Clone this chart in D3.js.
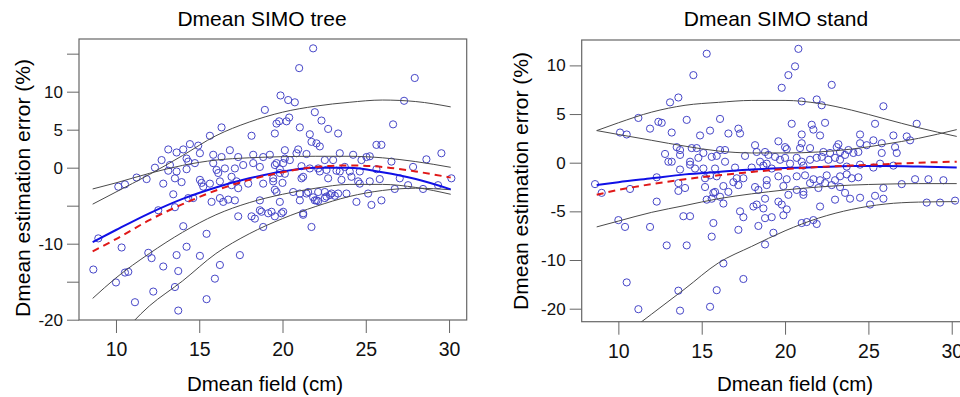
<!DOCTYPE html>
<html>
<head>
<meta charset="utf-8">
<script src="https://cdn.jsdelivr.net/npm/d3@7"></script>
<style>
  body { margin: 0; background: #fff; }
  svg { display: block; font-family: "Liberation Sans", Arial, sans-serif; }
</style>
</head>
<body>
<svg id="chart" width="960" height="397"></svg>
<script>
// ---- data ----
const treeTitle = 'Dmean SIMO tree';
const standTitle = 'Dmean SIMO stand';
const xLabel = 'Dmean field (cm)';
const yLabel = 'Dmean estimation error (%)';

const xTicks = [10, 15, 20, 25, 30];
const treeYTicks = [15, 10, 5, 0, -5, -10, -15, -20];
const treeYLabelled = [10, 5, 0, -10, -20];
const standYTicks = [10, 5, 0, -5, -10, -20];

// [Dmean field (cm), estimation error (%)]
const treePoints = [
  [8.64,-13.4],[8.94,-9.3],[10.0,-15.1],[10.14,-2.5],[10.54,-2.2],[10.34,-10.5],[10.54,-13.8],[10.74,-13.7],
  [11.14,-17.7],[11.24,-1.3],[11.84,-1.5],[11.94,-11.2],[12.14,-11.9],[12.24,-16.3],[12.34,0.0],[12.54,-5.6],
  [12.74,1.0],[12.84,-2.1],[12.84,-13.0],[13.14,2.4],[13.24,0.35],[13.14,-0.4],[13.44,-3.5],[13.54,-5.2],
  [13.64,2.0],[13.64,-0.5],[13.54,-1.4],[13.64,-11.5],[13.74,-13.6],[13.54,-15.7],[13.74,-18.8],[13.94,-1.9],
  [14.04,2.4],[14.04,-7.7],[14.24,1.2],[14.34,0.8],[14.24,-0.2],[14.24,-10.4],[14.34,-4.0],[14.44,3.1],
  [14.64,-4.0],[14.74,0.6],[14.94,2.9],[15.04,1.9],[15.04,-1.6],[15.14,-2.0],[15.24,-2.5],[15.04,-11.6],
  [15.44,-8.7],[15.44,-17.3],[15.64,4.2],[15.64,-2.1],[15.74,-4.5],[15.84,1.7],[15.84,0.6],[16.04,-0.3],
  [16.14,-0.7],[15.94,-14.6],[16.24,-1.8],[16.24,-4.0],[16.24,-12.8],[16.34,5.3],[16.34,1.4],[16.44,-4.5],
  [16.54,-0.1],[16.74,-4.2],[16.84,2.3],[16.94,-1.2],[16.94,-2.3],[17.14,-0.1],[17.14,-4.3],[17.24,-1.8],
  [17.34,1.4],[17.34,-2.7],[17.34,-6.4],[17.44,-11.5],[17.64,0.35],[17.94,-2.1],[18.14,4.2],[18.24,1.7],
  [18.24,0.6],[18.14,-6.4],[18.34,-6.7],[18.64,0.1],[18.64,-4.3],[18.64,-5.6],[18.74,-5.8],[18.84,1.4],
  [18.84,-2.1],[18.84,-7.8],[18.94,7.6],[19.14,-6.0],[19.24,1.7],[19.44,-1.4],[19.54,4.5],[19.54,-2.9],
  [19.64,-3.2],[19.54,-6.4],[19.64,5.8],[19.64,0.6],[19.8,6.1],[19.88,9.5],[19.84,-0.2],[19.84,-0.7],
  [19.84,-4.5],[19.94,-6.0],[20.04,0.6],[20.04,-5.8],[20.14,2.3],[20.14,1.2],[20.14,-0.8],[20.24,6.1],
  [20.34,8.9],[20.4,6.6],[20.44,1.0],[20.64,-3.2],[20.74,8.6],[20.84,1.9],[20.94,2.4],[21.0,13.1],
  [21.04,5.3],[21.04,-3.4],[21.04,-4.3],[21.14,0.2],[21.14,-1.4],[21.24,-1.2],[21.24,-6.0],[21.24,-6.2],
  [21.44,1.8],[21.44,-3.4],[21.54,-3.2],[21.64,4.4],[21.64,-0.1],[21.74,3.4],[21.74,-7.8],[21.84,15.7],
  [21.84,-3.9],[21.94,7.3],[21.94,-4.3],[22.04,3.2],[22.04,-4.3],[22.14,-0.1],[22.14,-3.2],[22.14,-4.4],
  [22.24,2.8],[22.24,-0.5],[22.34,6.2],[22.54,1.0],[22.54,-3.2],[22.54,-4.0],[22.64,-0.3],[22.64,-3.8],
  [22.74,5.1],[22.74,-1.4],[22.84,-3.6],[22.94,-3.4],[23.04,1.0],[23.14,-3.7],[23.24,-0.4],[23.34,4.5],
  [23.34,-3.4],[23.44,1.9],[23.44,-0.5],[23.54,-1.6],[23.74,0.1],[23.84,-3.4],[24.04,-0.5],[24.14,-1.2],
  [24.24,1.7],[24.44,-4.5],[24.54,-1.8],[24.64,-0.5],[24.64,-2.1],[24.74,1.0],[25.04,1.4],[25.14,-3.4],
  [25.24,1.5],[25.24,-1.8],[25.34,-4.9],[25.64,3.0],[25.94,3.0],[25.64,-0.2],[25.84,-1.5],[25.94,-4.3],
  [26.54,0.8],[26.64,5.7],[26.74,-2.8],[27.04,-1.4],[27.3,8.8],[27.54,-2.3],[27.84,0.1],[27.94,11.8],
  [28.44,-2.8],[28.64,1.1],[29.34,-2.3],[29.54,1.9],[30.14,-1.4],[19.54,0.35],[19.44,-1.8],[19.34,-5.8],
  [20.0,-2.0]
];

const standPoints = [
  [15.3,11.2],[20.8,11.7],[20.6,9.9],[20.2,9.0],[14.5,9.0],[19.8,7.7],[22.8,8.0],[13.6,6.7],[13.1,6.2],
  [21.0,6.3],[21.9,6.5],[22.2,5.9],[25.9,5.8],
  [11.2,4.6],[12.4,4.2],[12.6,4.1],[11.9,3.5],[14.1,4.4],[16.1,4.5],[13.2,3.1],[10.1,3.1],[10.5,2.9],
  [14.9,2.8],[15.5,3.3],[16.6,3.0],[17.2,3.5],[17.3,3.0],[20.4,4.0],[21.6,3.9],[21.7,3.4],[22.4,4.1],
  [21.0,2.9],[22.1,2.8],[25.4,4.0],[27.9,4.0],[24.5,2.9],[26.5,2.8],[27.3,2.7],[27.5,2.3],
  [13.5,1.6],[13.7,1.3],[14.4,1.5],[14.7,1.5],[15.1,1.0],[16.1,1.3],[16.4,1.3],[12.8,0.9],[13.0,0.1],
  [13.2,0.1],[13.7,0.8],[14.3,0.1],[14.8,0.5],[15.6,0.6],[15.9,0.7],[16.4,0.1],[17.6,0.7],[18.2,1.8],
  [18.3,1.1],[19.6,2.2],[20.0,1.6],[20.1,1.4],[21.0,2.0],[20.9,1.5],[21.5,1.5],[18.8,1.1],[23.2,1.9],
  [23.1,1.6],[24.5,2.0],[24.9,1.8],[25.3,2.3],[25.8,2.0],[26.6,1.6],[26.7,1.0],[25.8,1.0],[23.8,1.3],
  [24.1,1.0],[24.4,1.1],[22.3,1.1],[22.7,1.0],[23.3,1.1],[23.6,0.8],
  [21.5,0.3],[21.9,0.5],[22.2,0.6],[22.6,0.3],[23.0,0.5],[23.3,0.3],[19.7,0.3],[20.0,0.5],[20.3,-0.1],
  [20.7,0.5],[21.0,0.1],[21.1,-0.3],[19.0,0.8],[19.4,0.6],[18.9,-0.1],[19.2,-0.6],[18.5,0.1],[23.7,-0.4],
  [24.5,-0.2],[25.3,-0.5],[25.7,-0.1],[26.5,-0.3],[13.7,-0.7],[14.6,-0.6],[15.1,-0.6],[15.8,-0.6],
  [17.0,-0.5],[18.0,-0.5],[18.7,-0.3],[14.3,-0.2],
  [19.6,-1.4],[20.1,-1.7],[18.9,-1.8],[20.7,-1.4],[21.2,-1.3],[21.7,-1.7],[22.1,-1.8],[22.5,-1.3],
  [23.0,-1.8],[23.3,-1.4],[23.7,-1.2],[24.0,-1.6],[24.4,-1.5],[27.8,-1.7],[28.6,-1.7],[29.5,-1.8],
  [27.0,-2.2],[25.9,-2.6],[8.6,-2.2],[9.0,-3.1],[10.7,-2.7],[12.3,-1.5],[13.6,-2.1],[14.0,-2.6],
  [15.2,-2.5],[15.2,-1.6],[15.5,-1.3],[15.9,-1.4],[16.3,-2.4],[16.9,-2.0],[17.2,-2.3],[17.5,-1.6],
  [17.1,-1.6],[18.2,-2.5],[18.4,-2.8],[18.9,-2.3],[19.9,-2.4],[20.2,-3.3],[20.7,-2.8],[21.1,-3.0],
  [21.1,-3.3],[21.5,-2.1],[22.0,-2.6],[22.4,-2.1],[22.8,-2.3],[23.3,-2.5],[23.6,-3.1],[13.6,-2.9],
  [15.7,-3.1],[15.8,-3.0],[16.1,-3.5],[16.6,-3.0],
  [12.3,-4.0],[15.3,-3.8],[15.6,-3.7],[16.3,-4.2],[18.1,-4.5],[18.3,-4.3],[18.7,-4.7],[18.8,-3.7],
  [19.6,-4.0],[19.8,-4.3],[20.1,-4.8],[19.9,-5.4],[22.1,-4.5],[23.9,-3.7],[23.0,-3.8],[24.5,-3.6],
  [25.1,-4.3],[25.4,-3.4],[25.9,-3.7],[28.5,-4.1],[29.3,-4.1],[30.2,-3.9],[17.3,-5.0],
  [17.5,-5.6],[18.8,-5.7],[19.2,-5.6],[13.9,-5.5],[14.3,-5.5],[15.7,-6.2],[10.0,-5.9],[10.4,-6.6],
  [11.9,-6.6],[17.2,-6.9],[18.4,-6.5],[15.6,-7.6],[21.0,-6.2],[21.3,-6.1],[21.7,-5.9],[21.9,-6.3],
  [19.3,-7.2],[18.8,-8.4],[12.9,-8.5],[14.1,-8.5],
  [16.3,-10.7],[17.5,-13.9],[10.5,-14.6],[13.6,-16.3],[15.9,-16.2],[11.2,-20.1],[13.7,-20.4],[15.5,-19.6]
];

// fitted curves, sampled along Dmean field
const treeCurveX = [8.6, 10, 12, 14, 16, 18, 20, 22, 24, 26, 28, 30.1];
const treeQ95  = [-4.8, -3.2, -0.9, 1.6, 4.2, 6.0, 7.3, 8.1, 8.6, 8.9, 8.7, 8.0];
const treeQ75  = [-2.8, -2.0, -0.75, 0.3, 1.0, 1.3, 1.45, 1.5, 1.5, 1.3, 0.8, 0.05];
const treeMean = [-9.8, -8.2, -6.0, -4.1, -2.6, -1.4, -0.5, 0.0, 0.0, -0.6, -1.5, -2.85];
const treeAlt  = [-11.0, -9.4, -6.9, -4.8, -3.0, -1.6, -0.6, 0.1, 0.3, 0.1, -0.5, -1.3];
const treeQ25  = [-17.2, -14.5, -11.3, -8.5, -6.2, -4.6, -3.5, -2.7, -2.2, -2.2, -2.6, -3.5];
const treeQ05  = [-25.0, -22.5, -18.2, -14.9, -11.3, -8.7, -6.7, -5.1, -3.8, -3.0, -2.7, -2.9];

const standCurveX = [8.7, 10, 12, 14, 16, 18, 20, 22, 24, 26, 28, 30.3];
const standQ95  = [3.3, 4.1, 5.2, 5.9, 6.2, 6.4, 6.4, 6.1, 5.4, 4.5, 3.6, 2.7];
const standQ75  = [3.3, 2.9, 2.3, 1.7, 1.2, 1.0, 1.0, 1.1, 1.4, 1.9, 2.5, 3.4];
const standMean = [-2.3, -2.0, -1.6, -1.2, -0.95, -0.7, -0.55, -0.45, -0.35, -0.35, -0.4, -0.5];
const standAlt  = [-3.3, -2.8, -2.2, -1.7, -1.3, -0.95, -0.65, -0.45, -0.3, -0.15, 0.0, 0.1];
const standQ25  = [-6.6, -6.0, -5.1, -4.4, -3.7, -3.2, -2.8, -2.5, -2.3, -2.2, -2.15, -2.15];
const standQ05X = [11.0, 12, 14, 16, 18, 20, 22, 24, 26, 28, 30.3];
const standQ05  = [-23.7, -21.1, -15.9, -10.6, -8.6, -7.0, -5.7, -4.8, -4.25, -4.05, -4.0];

// ---- drawing ----
const svg = d3.select('#chart');
const zip = (xs, ys) => xs.map((v, i) => [v, ys[i]]);

const panels = [
  {
    id: 'tree', title: treeTitle, titleX: 262, xLabelX: 265, yLabelY: 188, yLabelX: 30,
    left: 79, right: 466.7, top: 39, bottom: 320,
    xDomain: [7.78, 31.06], yDomain: [-20.04, 16.93],
    yTicks: treeYTicks, yLabelled: treeYLabelled,
    points: treePoints,
    curves: [
      zip(treeCurveX, treeQ95), zip(treeCurveX, treeQ75),
      zip(treeCurveX, treeQ25), zip(treeCurveX, treeQ05)
    ],
    mean: zip(treeCurveX, treeMean), alt: zip(treeCurveX, treeAlt)
  },
  {
    id: 'stand', title: standTitle, titleX: 776, xLabelX: 795, yLabelY: 181, yLabelX: 528,
    left: 581.7, right: 969.4, top: 40, bottom: 321.7,
    xDomain: [7.8, 31.06], yDomain: [-22.67, -10, 12.61], yBreak: 260,
    yTicks: standYTicks, yLabelled: standYTicks,
    points: standPoints,
    curves: [
      zip(standCurveX, standQ95), zip(standCurveX, standQ75),
      zip(standCurveX, standQ25), zip(standQ05X, standQ05)
    ],
    mean: zip(standCurveX, standMean), alt: zip(standCurveX, standAlt)
  }
];

panels.forEach(p => {
  const x = d3.scaleLinear().domain(p.xDomain).range([p.left, p.right]);
  // the stand panel's axis is not evenly spaced below -10
  const yRange = p.yDomain.length === 3 ? [p.bottom, p.yBreak, p.top] : [p.bottom, p.top];
  const y = d3.scaleLinear().domain(p.yDomain).range(yRange);

  const g = svg.append('g').attr('class', 'panel-' + p.id);

  svg.append('clipPath').attr('id', 'clip-' + p.id)
    .append('rect')
    .attr('x', p.left).attr('y', p.top)
    .attr('width', p.right - p.left).attr('height', p.bottom - p.top);

  // axes
  const yAxis = d3.axisLeft(y)
    .tickValues(p.yTicks)
    .tickFormat(d => p.yLabelled.includes(d) ? String(d) : '')
    .tickSize(12).tickPadding(4);
  const ya = g.append('g')
    .attr('transform', 'translate(' + p.left + ',0)')
    .call(yAxis);

  const xAxis = d3.axisBottom(x)
    .tickValues(xTicks)
    .tickFormat(d => String(d))
    .tickSize(13).tickPadding(9);
  const xa = g.append('g')
    .attr('transform', 'translate(0,' + p.bottom + ')')
    .call(xAxis);

  [ya, xa].forEach(a => {
    a.select('.domain').remove();
    a.selectAll('.tick line').attr('stroke', '#666');
    a.selectAll('.tick text').attr('fill', '#111').attr('font-family', '"Liberation Sans", Arial, sans-serif');
  });
  ya.selectAll('.tick text').attr('font-size', 17);
  xa.selectAll('.tick text').attr('font-size', 19.5);

  // box
  g.append('rect')
    .attr('x', p.left).attr('y', p.top)
    .attr('width', p.right - p.left).attr('height', p.bottom - p.top)
    .attr('fill', 'none').attr('stroke', '#666').attr('stroke-width', 1.2);

  const body = g.append('g').attr('clip-path', 'url(#clip-' + p.id + ')');

  // points
  body.selectAll('circle.pt')
    .data(p.points)
    .enter()
    .append('circle')
    .attr('class', 'pt')
    .attr('cx', d => x(d[0]))
    .attr('cy', d => y(d[1]))
    .attr('r', 3.6)
    .attr('fill', 'none')
    .attr('stroke', '#4646c8')
    .attr('stroke-width', 1);

  const line = d3.line()
    .x(d => x(d[0]))
    .y(d => y(d[1]))
    .curve(d3.curveMonotoneX);

  body.selectAll('path.band')
    .data(p.curves)
    .enter()
    .append('path')
    .attr('class', 'band')
    .attr('d', line)
    .attr('fill', 'none')
    .attr('stroke', '#4a4a4a')
    .attr('stroke-width', 1);

  body.append('path')
    .attr('d', line(p.mean))
    .attr('fill', 'none')
    .attr('stroke', '#1010e6')
    .attr('stroke-width', 2);

  body.append('path')
    .attr('d', line(p.alt))
    .attr('fill', 'none')
    .attr('stroke', '#e01818')
    .attr('stroke-width', 2)
    .attr('stroke-dasharray', '7,5');

  // texts
  g.append('text')
    .attr('x', p.titleX).attr('y', 26)
    .attr('text-anchor', 'middle')
    .attr('font-size', 21)
    .text(p.title);

  g.append('text')
    .attr('x', p.xLabelX).attr('y', 391)
    .attr('text-anchor', 'middle')
    .attr('font-size', 20.5)
    .text(xLabel);

  g.append('text')
    .attr('transform', 'translate(' + p.yLabelX + ',' + p.yLabelY + ') rotate(-90)')
    .attr('text-anchor', 'middle')
    .attr('font-size', 21)
    .text(yLabel);
});
</script>
</body>
</html>
